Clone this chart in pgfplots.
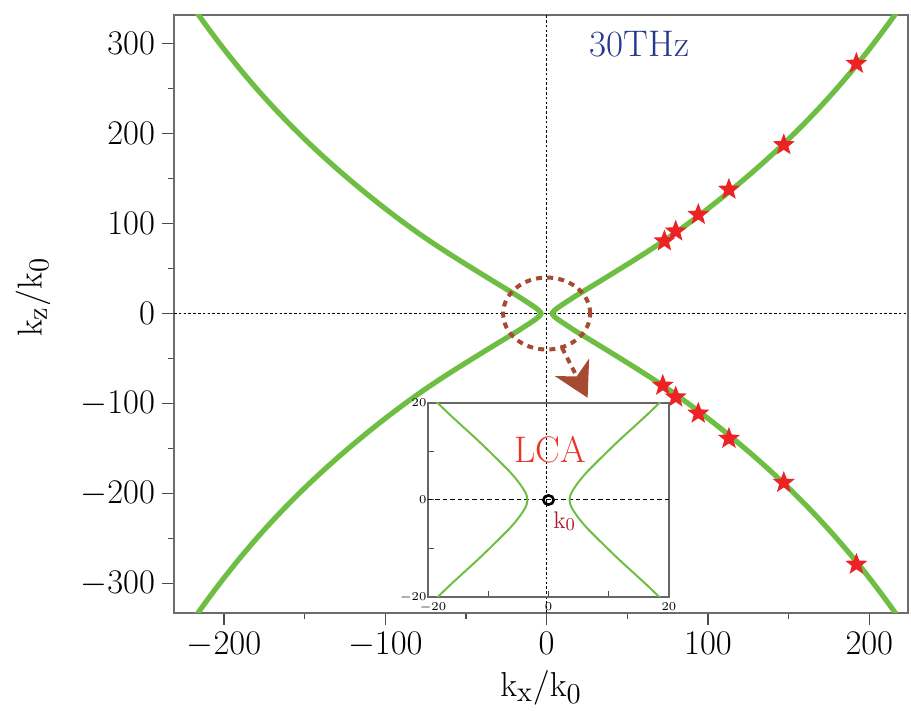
\documentclass[border=0pt]{standalone}
\usepackage{pgfplots}
\pgfplotsset{compat=1.18}
\usepackage{pgfplotstable}
\usetikzlibrary{arrows.meta,calc}

\definecolor{curvegreen}{RGB}{110,190,68}
\definecolor{starred}{RGB}{237,34,36}
\definecolor{navy}{RGB}{37,56,140}
\definecolor{lcared}{RGB}{236,50,36}
\definecolor{kred}{RGB}{165,30,40}
\definecolor{rust}{RGB}{166,74,50}

% filled five-point star
\pgfdeclareplotmark{fstar}{%
  \pgfpathmoveto{\pgfpointpolar{90}{\pgfplotmarksize}}%
  \pgfpathlineto{\pgfpointpolar{126}{0.42\pgfplotmarksize}}%
  \pgfpathlineto{\pgfpointpolar{162}{\pgfplotmarksize}}%
  \pgfpathlineto{\pgfpointpolar{198}{0.42\pgfplotmarksize}}%
  \pgfpathlineto{\pgfpointpolar{234}{\pgfplotmarksize}}%
  \pgfpathlineto{\pgfpointpolar{270}{0.42\pgfplotmarksize}}%
  \pgfpathlineto{\pgfpointpolar{306}{\pgfplotmarksize}}%
  \pgfpathlineto{\pgfpointpolar{342}{0.42\pgfplotmarksize}}%
  \pgfpathlineto{\pgfpointpolar{18}{\pgfplotmarksize}}%
  \pgfpathlineto{\pgfpointpolar{54}{0.42\pgfplotmarksize}}%
  \pgfpathclose\pgfusepathqfill}

% main branches: kz, right kx, left kx
\pgfplotstableread{
kz xr xl
-369 230 -230
-342.7 220 -220
-317.7 210 -210
-294 200 -200
-271.6 190 -190
-250.5 180 -180
-230.6 170 -170
-211.8 160 -160
-194 150 -150
-177.1 140 -140
-161 130 -130
-145.6 120 -120
-130.8 110 -110
-116.6 100 -100
-103 90 -90
-90 80 -80
-77.7 70 -70
-66 60 -60
-54.7 50 -50
-43.6 40 -40
-32.6 30 -30
-20 18.4 -18.4
-15 14.1 -14.1
-10 9.8 -9.8
-5.8 6.4 -6.4
-3.4 4.8 -4.8
-1.2 3.7 -3.7
0 3.5 -3.5
1.2 3.7 -3.7
3.4 4.8 -4.8
5.8 6.4 -6.4
10 9.8 -9.8
15 14.1 -14.1
20 18.4 -18.4
32.6 30 -30
43.6 40 -40
54.7 50 -50
66 60 -60
77.7 70 -70
90 80 -80
103 90 -90
116.6 100 -100
130.8 110 -110
145.6 120 -120
161 130 -130
177.1 140 -140
194 150 -150
211.8 160 -160
230.6 170 -170
250.5 180 -180
271.6 190 -190
294 200 -200
317.7 210 -210
342.7 220 -220
369 230 -230
}\branch

% inset (zoom near k0)
\pgfplotstableread{
kz xr xl
-21 19.3 -19.3
-20 18.4 -18.4
-17.5 16.3 -16.3
-15 14.1 -14.1
-12.5 11.9 -11.9
-10 9.8 -9.8
-7.8 8.0 -8.0
-5.8 6.4 -6.4
-4.5 5.5 -5.5
-3.4 4.8 -4.8
-2.3 4.2 -4.2
-1.2 3.7 -3.7
0 3.5 -3.5
1.2 3.7 -3.7
2.3 4.2 -4.2
3.4 4.8 -4.8
4.5 5.5 -5.5
5.8 6.4 -6.4
7.8 8.0 -8.0
10 9.8 -9.8
12.5 11.9 -11.9
15 14.1 -14.1
17.5 16.3 -16.3
20 18.4 -18.4
21 19.3 -19.3
}\insetdata

\begin{document}
\begin{tikzpicture}
\begin{axis}[
    name=main,
    scale only axis,
    width=367pt,
    height=299pt,
    xmin=-231, xmax=224,
    ymin=-333, ymax=332,
    xtick={-200,-100,0,100,200},
    ytick={-300,-200,...,300},
    minor xtick={-150,-50,50,150},
    minor ytick={-250,-150,-50,50,150,250},
    tick pos=left,
    tick align=outside,
    major tick length=6pt,
    minor tick length=3pt,
    axis line style={draw=gray!85!black, line width=0.8pt},
    tick style={gray!60!black, line width=0.6pt},
    ticklabel style={font=\fontsize{18}{20}\selectfont},
    xlabel={$\mathrm{k_x/k_0}$},
    ylabel={$\mathrm{k_z/k_0}$},
    label style={font=\fontsize{19}{22}\selectfont},
    xlabel style={at={(axis description cs:0.5,-0.1254)}, anchor=center},
    ylabel style={at={(axis description cs:-0.1921,0.528)}, anchor=center},
]
\draw[black, line width=0.5pt, dash pattern=on 1.3pt off 1.1pt] (axis cs:0,-333) -- (axis cs:0,332);
\draw[black, line width=0.5pt, dash pattern=on 1.3pt off 1.1pt] (axis cs:-231,0) -- (axis cs:224,0);
\addplot[no markers, smooth, curvegreen, line width=2.6pt] table[x=xr, y=kz] {\branch};
\addplot[no markers, smooth, curvegreen, line width=2.6pt] table[x=xl, y=kz] {\branch};
\draw[rust, line width=2pt, dash pattern=on 3pt off 2.6pt] (axis cs:0,0) ellipse [x radius=21.75pt, y radius=18pt];
\draw[rust, line width=2pt, dash pattern=on 3pt off 2.6pt, -{Stealth[length=17pt, width=19pt, inset=5pt]}]
  (axis cs:9.5,-38) -- (axis cs:25.4,-93.7);
\addplot[only marks, mark=fstar, mark size=5.8pt, color=starred] coordinates {
(73,80.5) (80,91.5) (94,110) (113,138) (147,187.5) (192,278)
(72,-80) (80,-93) (94,-111) (113,-139) (147,-188) (192,-279)
};
\node[navy, font=\fontsize{18.5}{20}\selectfont] at (axis cs:57.6,300) {30THz};
\end{axis}

\begin{axis}[
    at={($(main.south west)+(127pt,8pt)$)},
    anchor=south west,
    scale only axis,
    width=120.5pt,
    height=97pt,
    xmin=-20, xmax=20,
    ymin=-20, ymax=20,
    xtick={-20,0,20},
    ytick={-20,0,20},
    xticklabels={{\hspace*{5pt}$-20$},$0$,$20$},
    minor xtick={-10,10},
    minor ytick={-10,10},
    tick pos=left,
    tick align=inside,
    major tick length=3pt,
    minor tick length=3pt,
    axis line style={draw=gray!80!black, line width=0.7pt},
    tick style={gray!60!black, line width=0.5pt},
    ticklabel style={font=\fontsize{6.5}{7}\selectfont, inner sep=0.6pt},
    xticklabel style={yshift=-2pt},
]
\draw[black, line width=0.5pt, dash pattern=on 2.2pt off 1.5pt] (axis cs:-20,0) -- (axis cs:20,0);
\addplot[no markers, smooth, curvegreen, line width=1pt] table[x=xr, y=kz] {\insetdata};
\addplot[no markers, smooth, curvegreen, line width=1pt] table[x=xl, y=kz] {\insetdata};
\draw[black, line width=1.3pt] (axis cs:0,0) ellipse [x radius=2.6pt, y radius=2.3pt];
\node[lcared, font=\fontsize{18.5}{20}\selectfont] at (axis cs:0.3,10.3) {LCA};
\node[kred, font=\fontsize{12}{13}\selectfont] at (axis cs:2.6,-4.4) {k\raisebox{-0.2ex}{\fontsize{9}{9}\selectfont 0}};
\end{axis}

\pgfresetboundingbox
\path (main.south west) ++(-87pt,-49pt) rectangle ++(455.5pt,355.5pt);
\end{tikzpicture}
\end{document}
